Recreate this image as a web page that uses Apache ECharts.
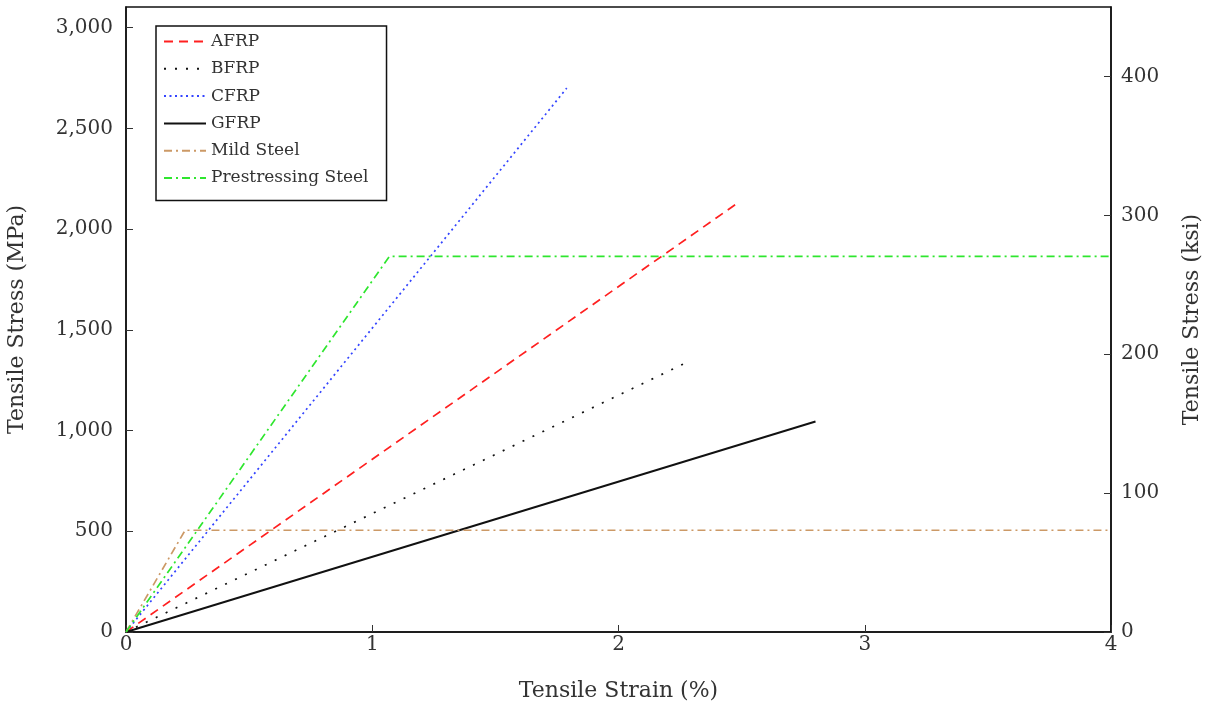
<!DOCTYPE html>
<html>
<head>
<meta charset="utf-8">
<script src="https://cdn.jsdelivr.net/npm/echarts@6/dist/echarts.min.js"></script>
<style>
  html, body { margin: 0; padding: 0; background: #fff; }
  #chart { width: 1205px; height: 706px; }
</style>
</head>
<body>
<div id="chart"></div>
<script>
// strain (%) and stress (MPa) points for each material
const seriesNames = ['AFRP', 'BFRP', 'CFRP', 'GFRP', 'Mild Steel', 'Prestressing Steel'];
const afrpStrain = [0, 2.49];
const afrpStress = [0, 2135];
const bfrpStrain = [0, 2.28];
const bfrpStress = [0, 1340];
const cfrpStrain = [0, 1.79];
const cfrpStress = [0, 2700];
const gfrpStrain = [0, 2.80];
const gfrpStress = [0, 1045];
const mildStrain = [0, 0.24, 4];
const mildStress = [0, 505, 505];
const prestrStrain = [0, 1.07, 4];
const prestrStress = [0, 1865, 1865];

const ksiMax = 450;
const mpaPerKsi = 6.894757;

const font = "'DejaVu Serif', 'Liberation Serif', serif";
const textColor = '#333';

function pairs(xs, ys) {
  return xs.map((x, i) => [x, ys[i]]);
}

const chart = echarts.init(document.getElementById('chart'));

const styles = [
  { color: '#ff2020', type: [9, 6], width: 1.7 },
  { color: '#111', type: [2, 9], width: 1.7 },
  { color: '#3344ff', type: [2, 3.5], width: 1.7 },
  { color: '#111', type: 'solid', width: 2 },
  { color: '#cc9966', type: [8, 4, 2, 4], width: 1.7 },
  { color: '#2ee62e', type: [8, 4, 2, 4], width: 1.7 }
];

const dataSets = [
  pairs(afrpStrain, afrpStress),
  pairs(bfrpStrain, bfrpStress),
  pairs(cfrpStrain, cfrpStress),
  pairs(gfrpStrain, gfrpStress),
  pairs(mildStrain, mildStress),
  pairs(prestrStrain, prestrStress)
];

const axisName = { fontFamily: font, fontSize: 22, color: textColor };
const tickLabel = { fontFamily: font, fontSize: 20, color: textColor };

const option = {
  backgroundColor: '#fff',
  animation: false,
  grid: {
    left: 126, top: 7, right: 94, bottom: 74,
    outerBoundsMode: 'none',
    containLabel: false,
    show: true, borderColor: '#111', borderWidth: 1.5, backgroundColor: 'transparent'
  },
  legend: {
    orient: 'vertical',
    left: 156, top: 26,
    padding: [7, 18, 14, 7],
    itemGap: 10.3,
    itemWidth: 42, itemHeight: 17,
    borderColor: '#111', borderWidth: 1.5,
    backgroundColor: '#fff',
    itemStyle: { opacity: 0 },
    textStyle: { fontFamily: font, fontSize: 17, color: textColor },
    data: seriesNames
  },
  xAxis: {
    type: 'value',
    min: 0, max: 4, interval: 1,
    name: 'Tensile Strain (%)',
    nameLocation: 'middle', nameGap: 48,
    nameTextStyle: axisName,
    axisLine: { show: true, onZero: false, lineStyle: { color: '#111', width: 1.5 } },
    axisTick: { inside: true, length: 7, lineStyle: { color: '#333' } },
    axisLabel: Object.assign({ margin: 3 }, tickLabel),
    splitLine: { show: false }
  },
  yAxis: [{
    type: 'value',
    min: 0, max: ksiMax * mpaPerKsi, interval: 500,
    name: 'Tensile Stress (MPa)',
    nameLocation: 'middle', nameGap: 98,
    nameTextStyle: axisName,
    axisLine: { show: true, lineStyle: { color: '#111', width: 1.5 } },
    axisTick: { inside: true, length: 7, lineStyle: { color: '#333' } },
    axisLabel: Object.assign({
      margin: 13, showMaxLabel: false,
      formatter: v => v.toLocaleString('en-US')
    }, tickLabel),
    splitLine: { show: false }
  }, {
    type: 'value',
    position: 'right',
    min: 0, max: ksiMax, interval: 100,
    name: 'Tensile Stress (ksi)',
    nameLocation: 'middle', nameGap: 70,
    nameRotate: 90,
    nameTextStyle: axisName,
    axisLine: { show: true, lineStyle: { color: '#111', width: 1.5 } },
    axisTick: { inside: true, length: 7, lineStyle: { color: '#333' } },
    axisLabel: Object.assign({ margin: 10, showMaxLabel: false }, tickLabel),
    splitLine: { show: false }
  }],
  series: seriesNames.map((name, i) => ({
    name,
    type: 'line',
    yAxisIndex: 0,
    data: dataSets[i],
    symbol: 'none',
    lineStyle: styles[i],
    itemStyle: { color: styles[i].color },
    z: 2
  }))
};

chart.setOption(option);
</script>
</body>
</html>
